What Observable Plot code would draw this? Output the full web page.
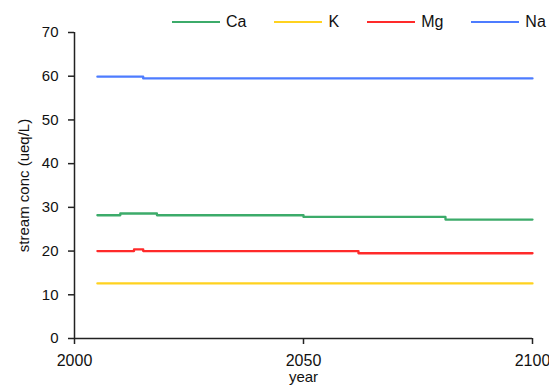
<!DOCTYPE html>
<html>
<head>
<meta charset="utf-8">
<script src="https://cdn.jsdelivr.net/npm/d3@7"></script>
<script src="https://cdn.jsdelivr.net/npm/@observablehq/plot@0.6"></script>
<style>
  html, body { margin: 0; padding: 0; background: #fff; }
  #wrap { position: relative; width: 549px; height: 389px; overflow: hidden; font-family: "Liberation Sans", Arial, sans-serif; }
  #legend { position: absolute; top: 12px; left: 172px; display: flex; align-items: center; font-size: 16px; color: #111; white-space: nowrap; }
  .item { display: flex; align-items: center; margin-right: 28px; }
  .sw { width: 48px; height: 0; border-top: 2.5px solid; }
  .lb { margin-left: 6px; line-height: 20px; }
</style>
</head>
<body>
<div id="wrap"><div id="legend"></div></div>
<script>
const ions = ["Ca", "K", "Mg", "Na"];
const colors = ["#3cab6a", "#ffd21f", "#ff2a2a", "#4d7cff"];

const caYears = [2005, 2010, 2018, 2050, 2081, 2100];
const caValues = [28.2, 28.6, 28.2, 27.8, 27.2, 27.2];
const kYears = [2005, 2100];
const kValues = [12.6, 12.6];
const mgYears = [2005, 2013, 2015, 2062, 2100];
const mgValues = [20.0, 20.4, 20.0, 19.5, 19.5];
const naYears = [2005, 2015, 2100];
const naValues = [59.9, 59.5, 59.5];

const xTicks = [2000, 2050, 2100];
const yTicks = [0, 10, 20, 30, 40, 50, 60, 70];

const series = {Ca: [caYears, caValues], K: [kYears, kValues], Mg: [mgYears, mgValues], Na: [naYears, naValues]};
const data = [];
for (const ion of ions) {
  const [ys, vs] = series[ion];
  ys.forEach((y, i) => data.push({ion, year: y, value: vs[i]}));
}

const axisColor = "#222";
const chart = Plot.plot({
  width: 549,
  height: 389,
  marginLeft: 74,
  marginRight: 17,
  marginTop: 32,
  marginBottom: 51,
  style: {fontFamily: "Liberation Sans, Arial, sans-serif", fontSize: "16px", color: "#111", background: "#fff", overflow: "visible"},
  x: {domain: [2000, 2100]},
  y: {domain: [0, 70]},
  color: {domain: ions, range: colors},
  marks: [
    Plot.axisY({ticks: yTicks, tickSize: 6, tickPadding: 10, stroke: axisColor, strokeWidth: 1.5,
      label: "stream conc (ueq/L)", labelAnchor: "center", labelArrow: "none", labelOffset: 56, fontSize: 15}),
    Plot.axisX({ticks: xTicks, tickFormat: d => String(d), tickSize: 6, tickPadding: 10, stroke: axisColor, strokeWidth: 1.5, label: null}),
    Plot.axisX({ticks: [], label: "year", labelAnchor: "center", labelArrow: "none", labelOffset: 43, fontSize: 15}),
    Plot.ruleX([2000], {stroke: axisColor, strokeWidth: 1.5}),
    Plot.ruleY([0], {stroke: axisColor, strokeWidth: 1.5}),
    Plot.line(data, {x: "year", y: "value", z: "ion", stroke: "ion", curve: "step-after", strokeWidth: 2.3, clip: false})
  ]
});
document.getElementById("wrap").appendChild(chart);

const legend = document.getElementById("legend");
ions.forEach((ion, i) => {
  const it = document.createElement("div");
  it.className = "item";
  const sw = document.createElement("div");
  sw.className = "sw";
  sw.style.borderTopColor = colors[i];
  const lb = document.createElement("span");
  lb.className = "lb";
  lb.textContent = ion;
  it.appendChild(sw); it.appendChild(lb);
  legend.appendChild(it);
});
</script>
</body>
</html>
